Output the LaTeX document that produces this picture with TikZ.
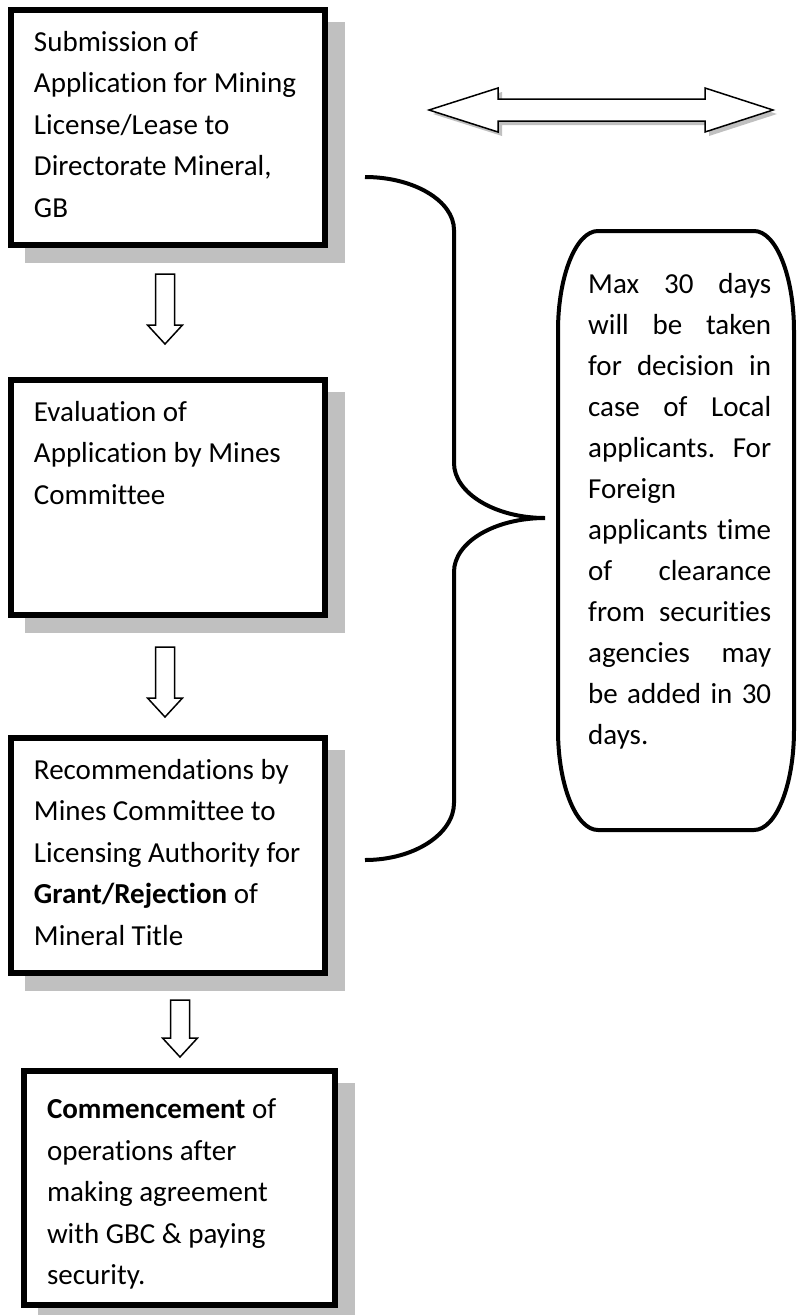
\documentclass[tikz,border=0pt]{standalone}
\usepackage{fontspec}
\setmainfont{Carlito}[Ligatures=NoCommon]
\usepackage{tikz}
\usetikzlibrary{calc,shadows,positioning}
\definecolor{shadowgray}{HTML}{C0C0C0}

\tikzset{
  stepbox/.style={draw, line width=6pt, fill=white, inner sep=0pt, outer sep=0pt,
    anchor=north west, minimum width=314pt, minimum height=235pt,
    drop shadow={shadow xshift=17pt, shadow yshift=-15pt, fill=shadowgray,
      draw=shadowgray, line width=6pt, opacity=1}},
  blockline/.style={draw, line width=1.5pt, fill=white, line join=miter},
  braceline/.style={line width=4pt},
}

% hollow arrow pointing down, from a top coordinate to a tip coordinate
\newcommand{\blockdown}[2]{%
  \draw[blockline] let \p1=(#1), \p2=(#2) in
    (\x1-9.5pt,\y1) -- (\x1+9.5pt,\y1) -- (\x1+9.5pt,\y2+19pt) -- (\x1+17.5pt,\y2+19pt)
    -- (\x1,\y2) -- (\x1-17.5pt,\y2+19pt) -- (\x1-9.5pt,\y2+19pt) -- cycle;}

\begin{document}
\begin{tikzpicture}[x=1pt,y=-1pt,font=\fontsize{29pt}{41.5pt}\selectfont]
\useasboundingbox (0,0) rectangle (798,1315);

% the four steps
\node[stepbox] (submit) at (11,10) {\hspace{22pt}\parbox[t][211pt][t]{290pt}{\strut
  Submission of\\ Application for Mining\\ License/Lease to\\ Directorate Mineral,\\ GB}};
\node[stepbox] (evaluate) at (11,380) {\hspace{22pt}\parbox[t][211pt][t]{290pt}{\strut
  Evaluation of\\ Application by Mines\\ Committee}};
\node[stepbox] (recommend) at (11,738) {\hspace{22pt}\parbox[t][211pt][t]{290pt}{\strut
  Recommendations by\\ Mines Committee to\\ Licensing Authority for\\
  \textbf{Grant/Rejection} of\\ Mineral Title}};
\node[stepbox, minimum width=311pt, minimum height=234pt] (commence) at (24,1071)
  {\hspace{22pt}\parbox[t][197pt][t]{287pt}{\strut
  \textbf{Commencement} of\\ operations after\\ making agreement\\ with GBC \& paying\\ security.}};

% arrows between steps
\coordinate (a1top) at (165,274);
\coordinate (a1tip) at (165,344);
\coordinate (a2top) at (165,647);
\coordinate (a2tip) at (165,717);
\coordinate (a3top) at (180,1000);
\coordinate (a3tip) at (180,1057);
\blockdown{a1top}{a1tip}
\blockdown{a2top}{a2tip}
\blockdown{a3top}{a3tip}

% double arrow with shadow
\fill[shadowgray, shift={(4,4)}] (429,110) -- (498,88) -- (498,99) -- (705,99) -- (705,88)
  -- (773,110) -- (705,132) -- (705,121) -- (498,121) -- (498,132) -- cycle;
\draw[blockline] (429,110) -- (498,88) -- (498,99) -- (705,99) -- (705,88)
  -- (773,110) -- (705,132) -- (705,121) -- (498,121) -- (498,132) -- cycle;

% brace
\draw[braceline] (365,177) .. controls (414,177) and (454,201) .. (454,230) -- (454,463)
  .. controls (454,493) and (495,518) .. (545,518)
  .. controls (495,518) and (454,542) .. (454,572) -- (454,803)
  .. controls (454,834) and (414,860) .. (365,860);

% note
\draw[line width=4pt] (598,231) -- (754,231) .. controls (776,231) and (794,276) .. (794,331)
  -- (794,730) .. controls (794,785) and (776,830) .. (754,830) -- (598,830)
  .. controls (576,830) and (558,785) .. (558,730) -- (558,331)
  .. controls (558,276) and (576,231) .. (598,231) -- cycle;
\node[inner sep=0pt, anchor=north west, font=\fontsize{29pt}{41pt}\selectfont] (note) at (588,265)
  {\parbox[t]{183pt}{\strut\makebox[183pt][s]{Max 30 days}\\
  \makebox[183pt][s]{will be taken}\\
  \makebox[183pt][s]{for decision in}\\
  \makebox[183pt][s]{case of Local}\\
  \makebox[183pt][s]{applicants. For}\\
  Foreign\\
  \makebox[183pt][s]{applicants time}\\
  \makebox[183pt][s]{of clearance}\\
  \makebox[183pt][s]{from securities}\\
  \makebox[183pt][s]{agencies may}\\
  \makebox[183pt][s]{be added in 30}\\
  days.}};
\end{tikzpicture}
\end{document}
